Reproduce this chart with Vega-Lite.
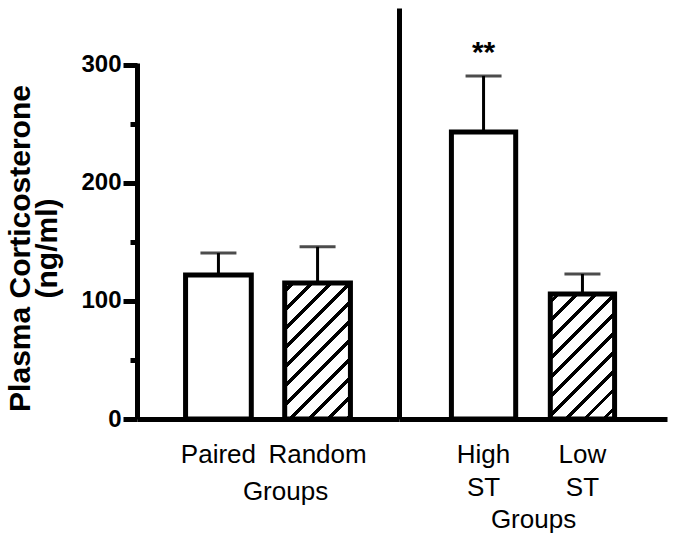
{
  "$schema": "https://vega.github.io/schema/vega-lite/v6.json",
  "padding": {"left": 5, "top": 8, "right": 5, "bottom": 5},
  "background": "white",
  "spacing": 0,
  "bounds": "flush",
  "config": {
    "view": {"stroke": null},
    "font": "Liberation Sans",
    "axis": {"domainColor": "black", "tickColor": "black", "labelColor": "black", "titleColor": "black", "grid": false, "labelFont": "Liberation Sans", "titleFont": "Liberation Sans"}
  },
  "datasets": {
    "left": [
      {"group": "Paired", "mean": 122, "upper": 140.5, "pattern": "open", "sig": ""},
      {"group": "Random", "mean": 115.2, "upper": 145.8, "pattern": "hatched", "sig": ""}
    ],
    "right": [
      {"group": "High ST", "mean": 243, "upper": 290.5, "pattern": "open", "sig": "**"},
      {"group": "Low ST", "mean": 105.8, "upper": 122.8, "pattern": "hatched", "sig": ""}
    ]
  },
  "hconcat": [
    {
      "width": 262,
      "height": 411,
      "data": {"name": "left"},
      "encoding": {
        "x": {
          "field": "group", "type": "nominal", "sort": null,
          "scale": {"paddingInner": 0.337, "paddingOuter": 0.49},
          "axis": {
            "labelAngle": 0, "ticks": false, "tickSize": 0, "domainWidth": 5,
            "labelFontSize": 26, "labelPadding": 22,
            "title": "Groups", "titleFontSize": 26, "titleFontWeight": "normal", "titlePadding": 11, "titleX": 148
          }
        }
      },
      "layer": [
        {
          "transform": [{"filter": "datum.pattern === 'open'"}],
          "mark": {"type": "bar", "fill": "white", "stroke": "black", "strokeWidth": 5},
          "encoding": {
            "y": {
              "field": "mean", "type": "quantitative",
              "scale": {"domain": [0, 348], "nice": false},
              "axis": {
                "values": [0, 50, 100, 150, 200, 250, 300],
                "labelExpr": "datum.value % 100 === 0 ? datum.label : ''",
                "tickSize": {"condition": {"test": "datum.value % 100 === 0", "value": 14}, "value": 7},
                "tickWidth": 5, "domainWidth": 5, "domainDash": [356, 1000],
                "labelFontSize": 24, "labelFontWeight": "bold", "labelPadding": 2,
                "title": ["Plasma Corticosterone", "(ng/ml)"],
                "titleFontSize": 30, "titleFontWeight": "bold", "titleLineHeight": 27,
                "titlePadding": 18, "titleY": 240
              }
            }
          }
        },
        {
          "transform": [{"filter": "datum.pattern === 'hatched'"}],
          "mark": {
            "type": "bar", "stroke": "black", "strokeWidth": 5,
            "fill": {
              "gradient": "linear", "x1": 0, "y1": 0, "x2": 0.581, "y2": 1.2025,
              "stops": [
                {"offset": 0, "color": "white"}, {"offset": 0.03, "color": "white"}, {"offset": 0.03, "color": "black"}, {"offset": 0.054, "color": "black"}, {"offset": 0.054, "color": "white"},
                {"offset": 0.124, "color": "white"}, {"offset": 0.124, "color": "black"}, {"offset": 0.148, "color": "black"}, {"offset": 0.148, "color": "white"},
                {"offset": 0.218, "color": "white"}, {"offset": 0.218, "color": "black"}, {"offset": 0.242, "color": "black"}, {"offset": 0.242, "color": "white"},
                {"offset": 0.312, "color": "white"}, {"offset": 0.312, "color": "black"}, {"offset": 0.336, "color": "black"}, {"offset": 0.336, "color": "white"},
                {"offset": 0.406, "color": "white"}, {"offset": 0.406, "color": "black"}, {"offset": 0.43, "color": "black"}, {"offset": 0.43, "color": "white"},
                {"offset": 0.5, "color": "white"}, {"offset": 0.5, "color": "black"}, {"offset": 0.524, "color": "black"}, {"offset": 0.524, "color": "white"},
                {"offset": 0.594, "color": "white"}, {"offset": 0.594, "color": "black"}, {"offset": 0.618, "color": "black"}, {"offset": 0.618, "color": "white"},
                {"offset": 0.688, "color": "white"}, {"offset": 0.688, "color": "black"}, {"offset": 0.712, "color": "black"}, {"offset": 0.712, "color": "white"},
                {"offset": 0.782, "color": "white"}, {"offset": 0.782, "color": "black"}, {"offset": 0.806, "color": "black"}, {"offset": 0.806, "color": "white"},
                {"offset": 0.876, "color": "white"}, {"offset": 0.876, "color": "black"}, {"offset": 0.9, "color": "black"}, {"offset": 0.9, "color": "white"},
                {"offset": 0.97, "color": "white"}, {"offset": 0.97, "color": "black"}, {"offset": 0.994, "color": "black"}, {"offset": 0.994, "color": "white"},
                {"offset": 1, "color": "white"}
              ]
            }
          },
          "encoding": {"y": {"field": "mean", "type": "quantitative"}}
        },
        {
          "mark": {"type": "rule", "color": "black", "strokeWidth": 3},
          "encoding": {"y": {"field": "mean", "type": "quantitative"}, "y2": {"field": "upper"}}
        },
        {
          "mark": {"type": "tick", "color": "black", "size": 36, "thickness": 3},
          "encoding": {"y": {"field": "upper", "type": "quantitative"}}
        }
      ]
    },
    {
      "width": 268,
      "height": 411,
      "data": {"name": "right"},
      "encoding": {
        "x": {
          "field": "group", "type": "nominal", "sort": null,
          "scale": {"paddingInner": 0.35, "paddingOuter": 0.53},
          "axis": {
            "labelAngle": 0, "ticks": false, "tickSize": 0, "domainWidth": 5,
            "labelFontSize": 26, "labelPadding": 22, "labelExpr": "split(datum.label, ' ')", "labelLineHeight": 33,
            "title": "Groups", "titleFontSize": 26, "titleFontWeight": "normal", "titlePadding": 6
          }
        }
      },
      "layer": [
        {
          "transform": [{"filter": "datum.pattern === 'open'"}],
          "mark": {"type": "bar", "fill": "white", "stroke": "black", "strokeWidth": 5},
          "encoding": {
            "y": {
              "field": "mean", "type": "quantitative",
              "scale": {"domain": [0, 348], "nice": false},
              "axis": {"ticks": false, "labels": false, "title": null, "domainWidth": 5}
            }
          }
        },
        {
          "transform": [{"filter": "datum.pattern === 'hatched'"}],
          "mark": {
            "type": "bar", "stroke": "black", "strokeWidth": 5,
            "fill": {
              "gradient": "linear", "x1": 0, "y1": 0, "x2": 0.616, "y2": 1.1976,
              "stops": [
                {"offset": 0, "color": "white"}, {"offset": 0.03, "color": "white"}, {"offset": 0.03, "color": "black"}, {"offset": 0.054, "color": "black"}, {"offset": 0.054, "color": "white"},
                {"offset": 0.13, "color": "white"}, {"offset": 0.13, "color": "black"}, {"offset": 0.154, "color": "black"}, {"offset": 0.154, "color": "white"},
                {"offset": 0.23, "color": "white"}, {"offset": 0.23, "color": "black"}, {"offset": 0.254, "color": "black"}, {"offset": 0.254, "color": "white"},
                {"offset": 0.33, "color": "white"}, {"offset": 0.33, "color": "black"}, {"offset": 0.354, "color": "black"}, {"offset": 0.354, "color": "white"},
                {"offset": 0.43, "color": "white"}, {"offset": 0.43, "color": "black"}, {"offset": 0.454, "color": "black"}, {"offset": 0.454, "color": "white"},
                {"offset": 0.53, "color": "white"}, {"offset": 0.53, "color": "black"}, {"offset": 0.554, "color": "black"}, {"offset": 0.554, "color": "white"},
                {"offset": 0.63, "color": "white"}, {"offset": 0.63, "color": "black"}, {"offset": 0.654, "color": "black"}, {"offset": 0.654, "color": "white"},
                {"offset": 0.73, "color": "white"}, {"offset": 0.73, "color": "black"}, {"offset": 0.754, "color": "black"}, {"offset": 0.754, "color": "white"},
                {"offset": 0.83, "color": "white"}, {"offset": 0.83, "color": "black"}, {"offset": 0.854, "color": "black"}, {"offset": 0.854, "color": "white"},
                {"offset": 0.93, "color": "white"}, {"offset": 0.93, "color": "black"}, {"offset": 0.954, "color": "black"}, {"offset": 0.954, "color": "white"},
                {"offset": 1, "color": "white"}
              ]
            }
          },
          "encoding": {"y": {"field": "mean", "type": "quantitative"}}
        },
        {
          "mark": {"type": "rule", "color": "black", "strokeWidth": 3},
          "encoding": {"y": {"field": "mean", "type": "quantitative"}, "y2": {"field": "upper"}}
        },
        {
          "mark": {"type": "tick", "color": "black", "size": 36, "thickness": 3},
          "encoding": {"y": {"field": "upper", "type": "quantitative"}}
        },
        {
          "mark": {"type": "text", "font": "Liberation Sans", "fontSize": 30, "fontWeight": "bold", "baseline": "alphabetic", "dy": -14, "color": "black"},
          "encoding": {"y": {"field": "upper", "type": "quantitative"}, "text": {"field": "sig"}}
        }
      ]
    }
  ]
}
